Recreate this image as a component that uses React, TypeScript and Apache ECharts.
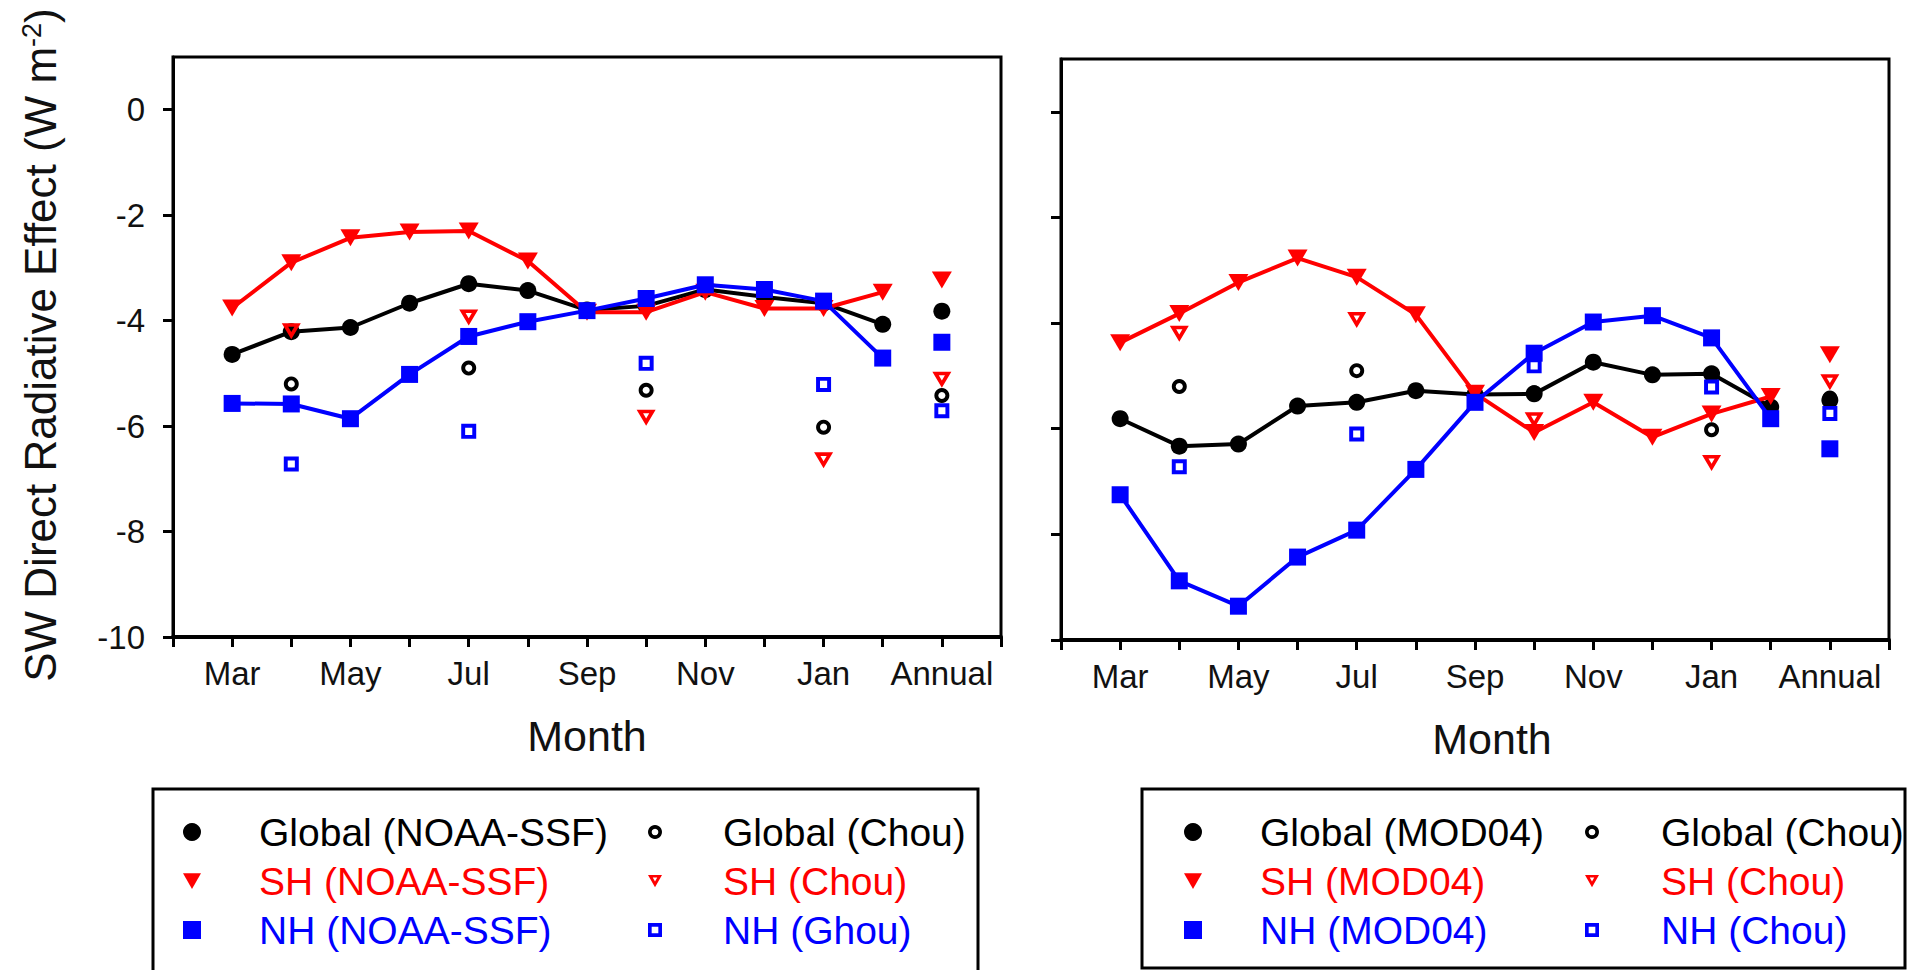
import React, { useEffect, useRef } from 'react';
import * as echarts from 'echarts';

// ---------- data ----------
const monthLabels = ['Mar', 'Apr', 'May', 'Jun', 'Jul', 'Aug', 'Sep', 'Oct', 'Nov', 'Dec', 'Jan', 'Feb', 'Annual'];
const labelIdx = [0, 2, 4, 6, 8, 10, 12];
const annualIdx = 12;
const chouIdx = [1, 4, 7, 10, 12]; // Apr, Jul, Oct, Jan, Annual
const yTicks = [-10, -8, -6, -4, -2, 0];

// Left panel (NOAA-SSF), Mar..Feb
const globalNoaa = [-4.64, -4.21, -4.13, -3.67, -3.30, -3.43, -3.80, -3.72, -3.41, -3.55, -3.67, -4.07];
const globalNoaaAnnual = -3.82;
const shNoaa = [-3.76, -2.90, -2.43, -2.32, -2.30, -2.87, -3.84, -3.84, -3.46, -3.77, -3.77, -3.46];
const shNoaaAnnual = -3.23;
const nhNoaa = [-5.57, -5.58, -5.86, -5.02, -4.30, -4.02, -3.81, -3.58, -3.32, -3.41, -3.63, -4.71];
const nhNoaaAnnual = -4.41;

// Right panel (MOD04), Mar..Feb
const globalMod = [-5.81, -6.33, -6.29, -5.57, -5.50, -5.28, -5.35, -5.34, -4.74, -4.98, -4.96, -5.59];
const globalModAnnual = -5.46;
const shMod = [-4.37, -3.82, -3.23, -2.77, -3.13, -3.84, -5.33, -6.07, -5.50, -6.16, -5.72, -5.39];
const shModAnnual = -4.60;
const nhMod = [-7.25, -8.88, -9.36, -8.43, -7.92, -6.77, -5.50, -4.57, -3.98, -3.86, -4.28, -5.81];
const nhModAnnual = -6.38;

// Chou (Apr, Jul, Oct, Jan, Annual)
const globalChou = [-5.20, -4.90, -5.32, -6.02, -5.42];
const shChou = [-4.20, -3.94, -5.84, -6.65, -5.12];
const nhChou = [-6.72, -6.10, -4.81, -5.21, -5.71];

// ---------- styling ----------
const FONT = 'Liberation Sans, Arial, sans-serif';
const BLACK = '#000000';
const RED = '#ff0000';
const BLUE = '#0000ff';
const TRI = 'path://M0,0L16,0L8,14Z';
const TRI_OPEN = 'path://M0,0L16,0L8,14Z M5.4,3.1L8,7.7L10.6,3.1Z';
const CIRCLE_OPEN = 'path://M8,0A8,8 0 1,1 7.99,0Z M8,4.2A3.8,3.8 0 1,0 8.01,4.2Z';
const RECT_OPEN = 'path://M0,0L16,0L16,16L0,16Z M4.2,4.2L4.2,11.8L11.8,11.8L11.8,4.2Z';

function axesFor(gi: number, showYLabels: boolean) {
  const x = {
    type: 'value',
    gridIndex: gi,
    min: -1,
    max: 13,
    interval: 1,
    splitLine: { show: false },
    axisLine: { onZero: false, lineStyle: { color: '#000', width: 4 } },
    axisTick: { show: true, inside: false, length: 10, lineStyle: { color: '#000', width: 3 } },
    axisLabel: {
      customValues: labelIdx,
      formatter: (v: number) => monthLabels[v] ?? '',
      fontSize: 33,
      fontFamily: FONT,
      color: '#111',
      margin: 20,
    },
  };
  const y = {
    type: 'value',
    gridIndex: gi,
    min: -10,
    max: 1,
    interval: 2,
    splitLine: { show: false },
    axisLine: { onZero: false, lineStyle: { color: '#000', width: 3 } },
    axisTick: { show: true, inside: false, length: 10, customValues: yTicks, lineStyle: { color: '#000', width: 3 } },
    axisLabel: {
      show: showYLabels,
      customValues: yTicks,
      fontSize: 33,
      fontFamily: FONT,
      color: '#111',
      margin: 28,
    },
  };
  return { x, y };
}

function panelSeries(
  gi: number,
  names: string[],
  main: number[][],
  annual: number[],
  chouNames: string[]
) {
  const colors = [BLACK, RED, BLUE];
  const symbols = ['circle', TRI, 'rect'];
  const sizes: any[] = [17, [20, 17], 17];
  const out: any[] = [];
  main.forEach((arr, k) => {
    out.push({
      type: 'line',
      name: names[k],
      xAxisIndex: gi,
      yAxisIndex: gi,
      data: arr.map((v, i) => [i, v]),
      symbol: symbols[k],
      symbolSize: sizes[k],
      showAllSymbol: true,
      lineStyle: { color: colors[k], width: 4 },
      itemStyle: { color: colors[k], opacity: 1 },
      z: 2 + k,
    });
  });
  main.forEach((_, k) => {
    out.push({
      type: 'scatter',
      name: names[k],
      xAxisIndex: gi,
      yAxisIndex: gi,
      data: [[annualIdx, annual[k]]],
      symbol: symbols[k],
      symbolSize: sizes[k],
      itemStyle: { color: colors[k], opacity: 1 },
      z: 5,
    });
  });
  const chouData = [globalChou, shChou, nhChou];
  const chouSymbols = [CIRCLE_OPEN, TRI_OPEN, RECT_OPEN];
  const chouSizes: any[] = [15, [19, 16], 15];
  chouData.forEach((arr, k) => {
    out.push({
      type: 'scatter',
      name: chouNames[k],
      xAxisIndex: gi,
      yAxisIndex: gi,
      data: arr.map((v, i) => [chouIdx[i], v]),
      symbol: chouSymbols[k],
      symbolSize: chouSizes[k],
      itemStyle: { color: colors[k], opacity: 1 },
      z: 6,
    });
  });
  return out;
}

function legendPair(names: string[], chouNames: string[], left1: number, left2: number, pad1: number, pad2: number) {
  const colors = [BLACK, RED, BLUE];
  const icons1 = ['circle', TRI, 'rect'];
  const icons2 = [CIRCLE_OPEN, TRI_OPEN, RECT_OPEN];
  const common = {
    orient: 'vertical',
    top: 812,
    padding: 0,
    itemGap: 9,
    selectedMode: false,
  };
  return [
    {
      ...common,
      left: left1,
      itemWidth: 18,
      itemHeight: 18,
      textStyle: { fontSize: 39, fontFamily: FONT, lineHeight: 40, padding: [0, 0, 0, pad1] },
      data: names.map((n, k) => ({
        name: n,
        icon: icons1[k],
        itemStyle: { color: colors[k], borderWidth: 0, opacity: 1 },
        textStyle: { color: colors[k] },
      })),
    },
    {
      ...common,
      left: left2,
      itemWidth: 14,
      itemHeight: 14,
      textStyle: { fontSize: 39, fontFamily: FONT, lineHeight: 40, padding: [0, 0, 0, pad2] },
      data: chouNames.map((n, k) => ({
        name: n,
        icon: icons2[k],
        itemStyle: { color: colors[k], borderWidth: 0, opacity: 1 },
        textStyle: { color: colors[k] },
      })),
    },
  ];
}

export default function App() {
  const ref = useRef<HTMLDivElement>(null);

  useEffect(() => {
    if (!ref.current) return;
    const chart = echarts.init(ref.current, undefined, { renderer: 'svg' });

    const leftNames = ['Global (NOAA-SSF)', 'SH (NOAA-SSF)', 'NH (NOAA-SSF)'];
    const leftChou = ['Global (Chou)', 'SH (Chou)', 'NH (Ghou)'];
    const rightNames = ['Global (MOD04)', 'SH (MOD04)', 'NH (MOD04)'];
    const rightChou = ['Global (Chou)', 'SH (Chou)', 'NH (Chou)'];

    const a0 = axesFor(0, true);
    const a1 = axesFor(1, false);

    const option: any = {
      animation: false,
      backgroundColor: '#ffffff',
      grid: [
        { left: 173, top: 57, width: 828, height: 580, show: true, borderColor: '#000', borderWidth: 3, backgroundColor: 'transparent' },
        { left: 1061, top: 59, width: 828, height: 581, show: true, borderColor: '#000', borderWidth: 3, backgroundColor: 'transparent' },
      ],
      xAxis: [a0.x, a1.x],
      yAxis: [a0.y, a1.y],
      legend: [
        ...legendPair(leftNames, leftChou, 183, 648, 53, 56),
        ...legendPair(rightNames, rightChou, 1184, 1585, 53, 57),
      ],
      series: [
        ...panelSeries(0, leftNames, [globalNoaa, shNoaa, nhNoaa], [globalNoaaAnnual, shNoaaAnnual, nhNoaaAnnual], leftChou),
        ...panelSeries(1, rightNames, [globalMod, shMod, nhMod], [globalModAnnual, shModAnnual, nhModAnnual], rightChou),
      ],
      graphic: [
        {
          type: 'text',
          x: 40,
          y: 345,
          rotation: Math.PI / 2,
          style: {
            text: '{a|SW Direct Radiative Effect (W m}{b|-2}{a|)}',
            align: 'center',
            verticalAlign: 'middle',
            rich: {
              a: { fontSize: 44, fontFamily: FONT, fill: '#111' },
              b: { fontSize: 27, fontFamily: FONT, fill: '#111', verticalAlign: 'top' },
            },
          },
        },
        {
          type: 'text',
          x: 587,
          y: 736,
          style: { text: 'Month', fontSize: 43, fontFamily: FONT, fill: '#111', align: 'center', verticalAlign: 'middle' },
        },
        {
          type: 'text',
          x: 1492,
          y: 739,
          style: { text: 'Month', fontSize: 43, fontFamily: FONT, fill: '#111', align: 'center', verticalAlign: 'middle' },
        },
        {
          type: 'rect',
          shape: { x: 153, y: 789, width: 825, height: 200 },
          style: { fill: 'none', stroke: '#000', lineWidth: 3 },
          z: -1,
        },
        {
          type: 'rect',
          shape: { x: 1142, y: 789, width: 763, height: 179 },
          style: { fill: 'none', stroke: '#000', lineWidth: 3 },
          z: -1,
        },
      ],
    };

    chart.setOption(option);
    return () => chart.dispose();
  }, []);

  return (
    <div
      ref={ref}
      style={{ position: 'absolute', left: 0, top: 0, width: 1914, height: 970, background: '#fff' }}
    />
  );
}
